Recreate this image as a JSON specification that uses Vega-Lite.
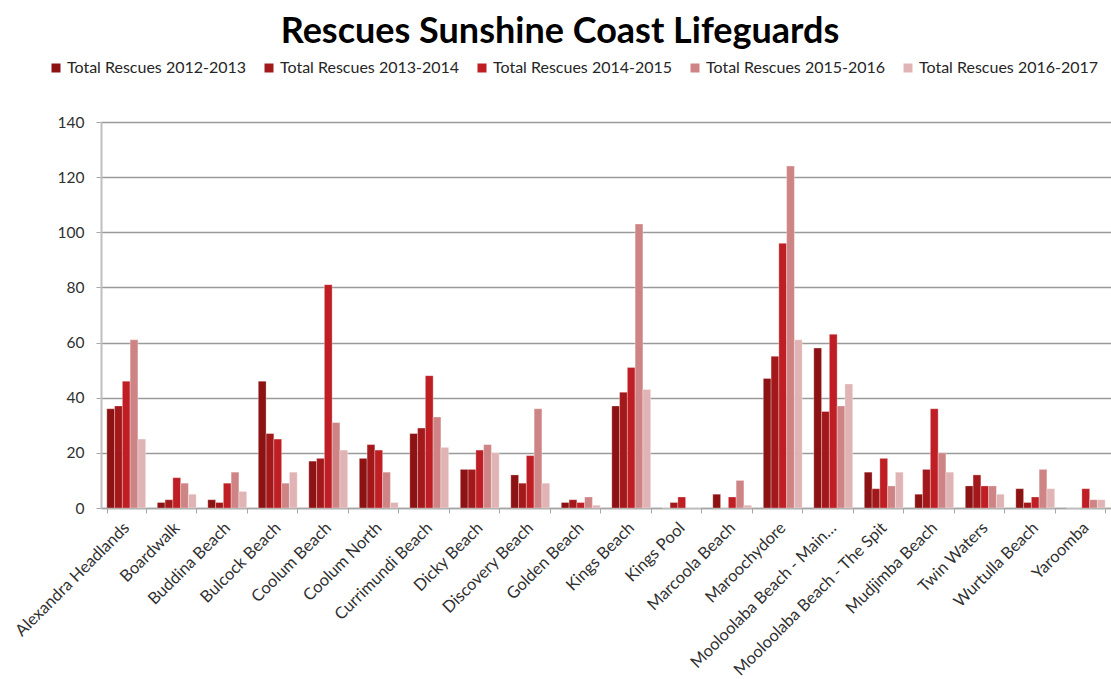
{
  "$schema": "https://vega.github.io/schema/vega-lite/v6.json",
  "autosize": "none",
  "width": 1010,
  "height": 386,
  "padding": {"left": 101, "top": 122, "right": 0, "bottom": 171},
  "background": "white",
  "title": {
    "text": "Rescues Sunshine Coast Lifeguards",
    "font": "Lato",
    "fontSize": 36,
    "fontWeight": "bold",
    "color": "#000000",
    "anchor": "middle",
    "frame": "group",
    "dx": -46,
    "offset": -19,
    "baseline": "alphabetic"
  },
  "data": {
    "values": [
      {"beach": "Alexandra Headlands", "period": "Total Rescues 2012-2013", "rescues": 36},
      {"beach": "Alexandra Headlands", "period": "Total Rescues 2013-2014", "rescues": 37},
      {"beach": "Alexandra Headlands", "period": "Total Rescues 2014-2015", "rescues": 46},
      {"beach": "Alexandra Headlands", "period": "Total Rescues 2015-2016", "rescues": 61},
      {"beach": "Alexandra Headlands", "period": "Total Rescues 2016-2017", "rescues": 25},
      {"beach": "Boardwalk", "period": "Total Rescues 2012-2013", "rescues": 2},
      {"beach": "Boardwalk", "period": "Total Rescues 2013-2014", "rescues": 3},
      {"beach": "Boardwalk", "period": "Total Rescues 2014-2015", "rescues": 11},
      {"beach": "Boardwalk", "period": "Total Rescues 2015-2016", "rescues": 9},
      {"beach": "Boardwalk", "period": "Total Rescues 2016-2017", "rescues": 5},
      {"beach": "Buddina Beach", "period": "Total Rescues 2012-2013", "rescues": 3},
      {"beach": "Buddina Beach", "period": "Total Rescues 2013-2014", "rescues": 2},
      {"beach": "Buddina Beach", "period": "Total Rescues 2014-2015", "rescues": 9},
      {"beach": "Buddina Beach", "period": "Total Rescues 2015-2016", "rescues": 13},
      {"beach": "Buddina Beach", "period": "Total Rescues 2016-2017", "rescues": 6},
      {"beach": "Bulcock Beach", "period": "Total Rescues 2012-2013", "rescues": 46},
      {"beach": "Bulcock Beach", "period": "Total Rescues 2013-2014", "rescues": 27},
      {"beach": "Bulcock Beach", "period": "Total Rescues 2014-2015", "rescues": 25},
      {"beach": "Bulcock Beach", "period": "Total Rescues 2015-2016", "rescues": 9},
      {"beach": "Bulcock Beach", "period": "Total Rescues 2016-2017", "rescues": 13},
      {"beach": "Coolum Beach", "period": "Total Rescues 2012-2013", "rescues": 17},
      {"beach": "Coolum Beach", "period": "Total Rescues 2013-2014", "rescues": 18},
      {"beach": "Coolum Beach", "period": "Total Rescues 2014-2015", "rescues": 81},
      {"beach": "Coolum Beach", "period": "Total Rescues 2015-2016", "rescues": 31},
      {"beach": "Coolum Beach", "period": "Total Rescues 2016-2017", "rescues": 21},
      {"beach": "Coolum North", "period": "Total Rescues 2012-2013", "rescues": 18},
      {"beach": "Coolum North", "period": "Total Rescues 2013-2014", "rescues": 23},
      {"beach": "Coolum North", "period": "Total Rescues 2014-2015", "rescues": 21},
      {"beach": "Coolum North", "period": "Total Rescues 2015-2016", "rescues": 13},
      {"beach": "Coolum North", "period": "Total Rescues 2016-2017", "rescues": 2},
      {"beach": "Currimundi Beach", "period": "Total Rescues 2012-2013", "rescues": 27},
      {"beach": "Currimundi Beach", "period": "Total Rescues 2013-2014", "rescues": 29},
      {"beach": "Currimundi Beach", "period": "Total Rescues 2014-2015", "rescues": 48},
      {"beach": "Currimundi Beach", "period": "Total Rescues 2015-2016", "rescues": 33},
      {"beach": "Currimundi Beach", "period": "Total Rescues 2016-2017", "rescues": 22},
      {"beach": "Dicky Beach", "period": "Total Rescues 2012-2013", "rescues": 14},
      {"beach": "Dicky Beach", "period": "Total Rescues 2013-2014", "rescues": 14},
      {"beach": "Dicky Beach", "period": "Total Rescues 2014-2015", "rescues": 21},
      {"beach": "Dicky Beach", "period": "Total Rescues 2015-2016", "rescues": 23},
      {"beach": "Dicky Beach", "period": "Total Rescues 2016-2017", "rescues": 20},
      {"beach": "Discovery Beach", "period": "Total Rescues 2012-2013", "rescues": 12},
      {"beach": "Discovery Beach", "period": "Total Rescues 2013-2014", "rescues": 9},
      {"beach": "Discovery Beach", "period": "Total Rescues 2014-2015", "rescues": 19},
      {"beach": "Discovery Beach", "period": "Total Rescues 2015-2016", "rescues": 36},
      {"beach": "Discovery Beach", "period": "Total Rescues 2016-2017", "rescues": 9},
      {"beach": "Golden Beach", "period": "Total Rescues 2012-2013", "rescues": 2},
      {"beach": "Golden Beach", "period": "Total Rescues 2013-2014", "rescues": 3},
      {"beach": "Golden Beach", "period": "Total Rescues 2014-2015", "rescues": 2},
      {"beach": "Golden Beach", "period": "Total Rescues 2015-2016", "rescues": 4},
      {"beach": "Golden Beach", "period": "Total Rescues 2016-2017", "rescues": 1},
      {"beach": "Kings Beach", "period": "Total Rescues 2012-2013", "rescues": 37},
      {"beach": "Kings Beach", "period": "Total Rescues 2013-2014", "rescues": 42},
      {"beach": "Kings Beach", "period": "Total Rescues 2014-2015", "rescues": 51},
      {"beach": "Kings Beach", "period": "Total Rescues 2015-2016", "rescues": 103},
      {"beach": "Kings Beach", "period": "Total Rescues 2016-2017", "rescues": 43},
      {"beach": "Kings Pool", "period": "Total Rescues 2012-2013", "rescues": 0},
      {"beach": "Kings Pool", "period": "Total Rescues 2013-2014", "rescues": 2},
      {"beach": "Kings Pool", "period": "Total Rescues 2014-2015", "rescues": 4},
      {"beach": "Kings Pool", "period": "Total Rescues 2015-2016", "rescues": 0},
      {"beach": "Kings Pool", "period": "Total Rescues 2016-2017", "rescues": 0},
      {"beach": "Marcoola Beach", "period": "Total Rescues 2012-2013", "rescues": 5},
      {"beach": "Marcoola Beach", "period": "Total Rescues 2013-2014", "rescues": 0},
      {"beach": "Marcoola Beach", "period": "Total Rescues 2014-2015", "rescues": 4},
      {"beach": "Marcoola Beach", "period": "Total Rescues 2015-2016", "rescues": 10},
      {"beach": "Marcoola Beach", "period": "Total Rescues 2016-2017", "rescues": 1},
      {"beach": "Maroochydore", "period": "Total Rescues 2012-2013", "rescues": 47},
      {"beach": "Maroochydore", "period": "Total Rescues 2013-2014", "rescues": 55},
      {"beach": "Maroochydore", "period": "Total Rescues 2014-2015", "rescues": 96},
      {"beach": "Maroochydore", "period": "Total Rescues 2015-2016", "rescues": 124},
      {"beach": "Maroochydore", "period": "Total Rescues 2016-2017", "rescues": 61},
      {"beach": "Mooloolaba Beach - Main…", "period": "Total Rescues 2012-2013", "rescues": 58},
      {"beach": "Mooloolaba Beach - Main…", "period": "Total Rescues 2013-2014", "rescues": 35},
      {"beach": "Mooloolaba Beach - Main…", "period": "Total Rescues 2014-2015", "rescues": 63},
      {"beach": "Mooloolaba Beach - Main…", "period": "Total Rescues 2015-2016", "rescues": 37},
      {"beach": "Mooloolaba Beach - Main…", "period": "Total Rescues 2016-2017", "rescues": 45},
      {"beach": "Mooloolaba Beach - The Spit", "period": "Total Rescues 2012-2013", "rescues": 13},
      {"beach": "Mooloolaba Beach - The Spit", "period": "Total Rescues 2013-2014", "rescues": 7},
      {"beach": "Mooloolaba Beach - The Spit", "period": "Total Rescues 2014-2015", "rescues": 18},
      {"beach": "Mooloolaba Beach - The Spit", "period": "Total Rescues 2015-2016", "rescues": 8},
      {"beach": "Mooloolaba Beach - The Spit", "period": "Total Rescues 2016-2017", "rescues": 13},
      {"beach": "Mudjimba Beach", "period": "Total Rescues 2012-2013", "rescues": 5},
      {"beach": "Mudjimba Beach", "period": "Total Rescues 2013-2014", "rescues": 14},
      {"beach": "Mudjimba Beach", "period": "Total Rescues 2014-2015", "rescues": 36},
      {"beach": "Mudjimba Beach", "period": "Total Rescues 2015-2016", "rescues": 20},
      {"beach": "Mudjimba Beach", "period": "Total Rescues 2016-2017", "rescues": 13},
      {"beach": "Twin Waters", "period": "Total Rescues 2012-2013", "rescues": 8},
      {"beach": "Twin Waters", "period": "Total Rescues 2013-2014", "rescues": 12},
      {"beach": "Twin Waters", "period": "Total Rescues 2014-2015", "rescues": 8},
      {"beach": "Twin Waters", "period": "Total Rescues 2015-2016", "rescues": 8},
      {"beach": "Twin Waters", "period": "Total Rescues 2016-2017", "rescues": 5},
      {"beach": "Wurtulla Beach", "period": "Total Rescues 2012-2013", "rescues": 7},
      {"beach": "Wurtulla Beach", "period": "Total Rescues 2013-2014", "rescues": 2},
      {"beach": "Wurtulla Beach", "period": "Total Rescues 2014-2015", "rescues": 4},
      {"beach": "Wurtulla Beach", "period": "Total Rescues 2015-2016", "rescues": 14},
      {"beach": "Wurtulla Beach", "period": "Total Rescues 2016-2017", "rescues": 7},
      {"beach": "Yaroomba", "period": "Total Rescues 2012-2013", "rescues": 0},
      {"beach": "Yaroomba", "period": "Total Rescues 2013-2014", "rescues": 0},
      {"beach": "Yaroomba", "period": "Total Rescues 2014-2015", "rescues": 7},
      {"beach": "Yaroomba", "period": "Total Rescues 2015-2016", "rescues": 3},
      {"beach": "Yaroomba", "period": "Total Rescues 2016-2017", "rescues": 3}
    ]
  },
  "mark": {"type": "bar", "stroke": "#ffffff", "strokeWidth": 0.5, "strokeOpacity": 0.6},
  "encoding": {
    "x": {
      "field": "beach",
      "type": "nominal",
      "sort": null,
      "title": null,
      "scale": {"paddingInner": 0.23, "paddingOuter": 0.115},
      "axis": {
        "labelAngle": -45,
        "labelAlign": "right",
        "labelBaseline": "middle",
        "labelFont": "Lato",
        "labelFontSize": 16.5,
        "labelColor": "#303030",
        "labelPadding": 12,
        "labelLimit": 300,
        "labelOverlap": false,
        "tickBand": "extent",
        "tickSize": 5,
        "tickColor": "#a6a6a6",
        "domainColor": "#a6a6a6",
        "domainWidth": 1.5,
        "grid": false
      }
    },
    "xOffset": {
      "field": "period",
      "type": "nominal",
      "scale": {"paddingInner": 0, "paddingOuter": 0}
    },
    "y": {
      "field": "rescues",
      "type": "quantitative",
      "title": null,
      "scale": {"domain": [0, 140], "nice": false},
      "axis": {
        "values": [0, 20, 40, 60, 80, 100, 120, 140],
        "labelFont": "Lato",
        "labelFontSize": 15.5,
        "labelColor": "#303030",
        "labelPadding": 12,
        "tickSize": 5,
        "tickColor": "#a6a6a6",
        "domainColor": "#bfbfbf",
        "domainWidth": 2,
        "gridColor": "#9a9a9a",
        "gridWidth": 1.3
      }
    },
    "color": {
      "field": "period",
      "type": "nominal",
      "title": null,
      "scale": {
        "domain": ["Total Rescues 2012-2013", "Total Rescues 2013-2014", "Total Rescues 2014-2015", "Total Rescues 2015-2016", "Total Rescues 2016-2017"],
        "range": ["#8c1214", "#a3181a", "#be1e24", "#ce8484", "#e0b4b4"]
      },
      "legend": {
        "orient": "none",
        "legendX": -53,
        "legendY": -62,
        "direction": "horizontal",
        "columns": 5,
        "columnPadding": 14,
        "symbolType": "square",
        "symbolSize": 81,
        "symbolStrokeWidth": 0,
        "labelFont": "Lato",
        "labelFontSize": 16,
        "labelColor": "#262626",
        "labelOffset": 3,
        "labelLimit": 300
      }
    }
  },
  "config": {
    "view": {"stroke": null}
  }
}
